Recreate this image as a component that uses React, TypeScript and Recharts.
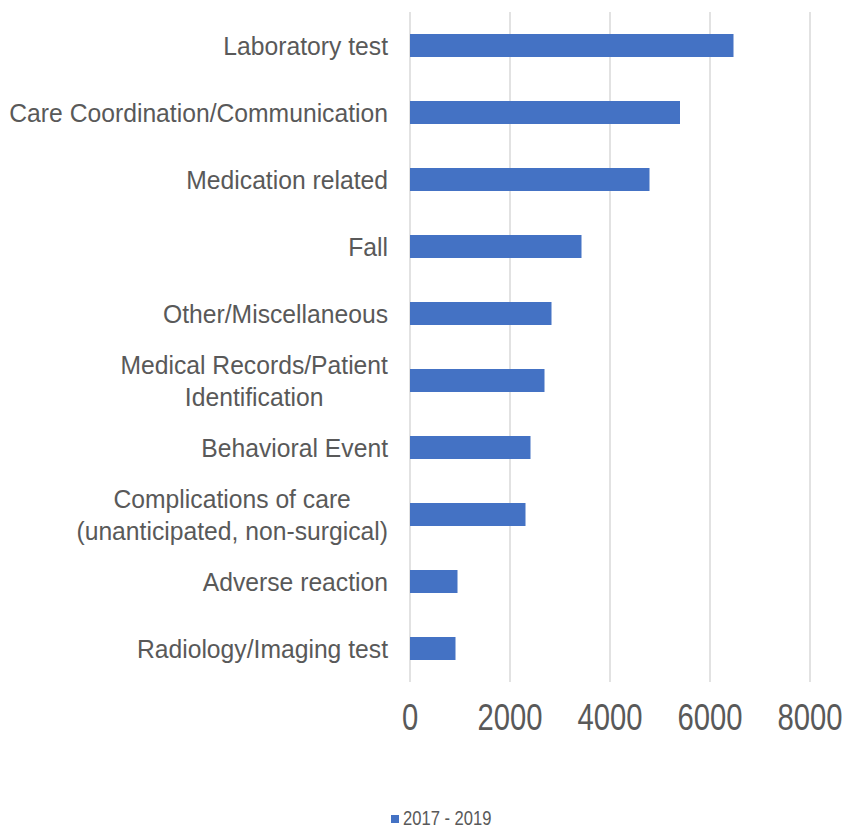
import React from 'react'
import { BarChart, Bar, XAxis, YAxis, CartesianGrid, Legend } from 'recharts'

// incident categories, top to bottom; "\n" marks a manual line break in the label
const categories = [
    'Laboratory test',
    'Care Coordination/Communication',
    'Medication related',
    'Fall',
    'Other/Miscellaneous',
    'Medical Records/Patient\nIdentification',
    'Behavioral Event',
    'Complications of care\n(unanticipated, non-surgical)',
    'Adverse reaction',
    'Radiology/Imaging test',
]
const counts = [6470, 5400, 4790, 3430, 2830, 2690, 2410, 2310, 950, 910]
const xTicks = [0, 2000, 4000, 6000, 8000]
const seriesName = '2017 - 2019'

const data = categories.map((name, i) => ({ name, count: counts[i] }))

const BLUE = '#4472C4'
const TEXT = '#595959'
const GRID = '#D9D9D9'
const FONT = '"Liberation Sans", Arial, sans-serif'
const LABEL_SIZE = 26
const LABEL_SQUEEZE = 0.95
const LINE_HEIGHT = 32
// no narrow face installed, so tick and legend text is squeezed horizontally
const NARROW = 0.79

let ctx: CanvasRenderingContext2D | null = null
function textWidth(s: string) {
    if (!ctx) ctx = document.createElement('canvas').getContext('2d')
    if (!ctx) return s.length * LABEL_SIZE * 0.5
    ctx.font = `${LABEL_SIZE}px ${FONT}`
    return ctx.measureText(s).width
}

function CategoryTick(props: any) {
    const { x, y, payload } = props
    const lines: string[] = String(payload.value).split('\n')
    // block is right-aligned to the axis, lines centred inside it
    const blockWidth = Math.max(...lines.map(textWidth))
    const multi = lines.length > 1
    const top = -((lines.length - 1) * LINE_HEIGHT) / 2
    return (
        <g transform={`translate(${x},${y}) scale(${LABEL_SQUEEZE},1)`}>
            {lines.map((line, i) => (
                <text
                    key={i}
                    x={multi ? -blockWidth / 2 : 0}
                    y={top + i * LINE_HEIGHT}
                    dy="0.35em"
                    textAnchor={multi ? 'middle' : 'end'}
                    fill={TEXT}
                    fontSize={LABEL_SIZE}
                    fontFamily={FONT}
                >
                    {line}
                </text>
            ))}
        </g>
    )
}

function ValueTick(props: any) {
    const { x, y, payload } = props
    return (
        <text
            transform={`translate(${x},${y + 40}) scale(${NARROW},1)`}
            textAnchor="middle"
            fill={TEXT}
            fontSize={37}
            fontFamily={FONT}
        >
            {payload.value}
        </text>
    )
}

function LegendBox() {
    return (
        <svg width={844} height={26} style={{ display: 'block' }}>
            <rect x={391} y={10} width={8} height={8} fill={BLUE} />
            <text
                transform={`translate(403,20) scale(${NARROW},1)`}
                fill={TEXT}
                fontSize={21}
                fontFamily={FONT}
            >
                {seriesName}
            </text>
        </svg>
    )
}

export default function App() {
    return (
        <div style={{ position: 'absolute', left: 0, top: 0, background: '#fff' }}>
            <BarChart
                width={844}
                height={831}
                data={data}
                layout="vertical"
                margin={{ top: 12, right: 34, bottom: 0, left: 0 }}
                barSize={23}
            >
                <CartesianGrid horizontal={false} stroke={GRID} strokeWidth={1.5} />
                <XAxis
                    type="number"
                    domain={[0, 8000]}
                    ticks={xTicks}
                    axisLine={false}
                    tickLine={false}
                    height={123}
                    tick={<ValueTick />}
                    interval={0}
                />
                <YAxis
                    type="category"
                    dataKey="name"
                    width={410}
                    axisLine={false}
                    tickLine={false}
                    tickMargin={16}
                    interval={0}
                    tick={<CategoryTick />}
                />
                <Legend verticalAlign="bottom" content={<LegendBox />} />
                <Bar dataKey="count" name={seriesName} fill={BLUE} isAnimationActive={false} />
            </BarChart>
        </div>
    )
}
